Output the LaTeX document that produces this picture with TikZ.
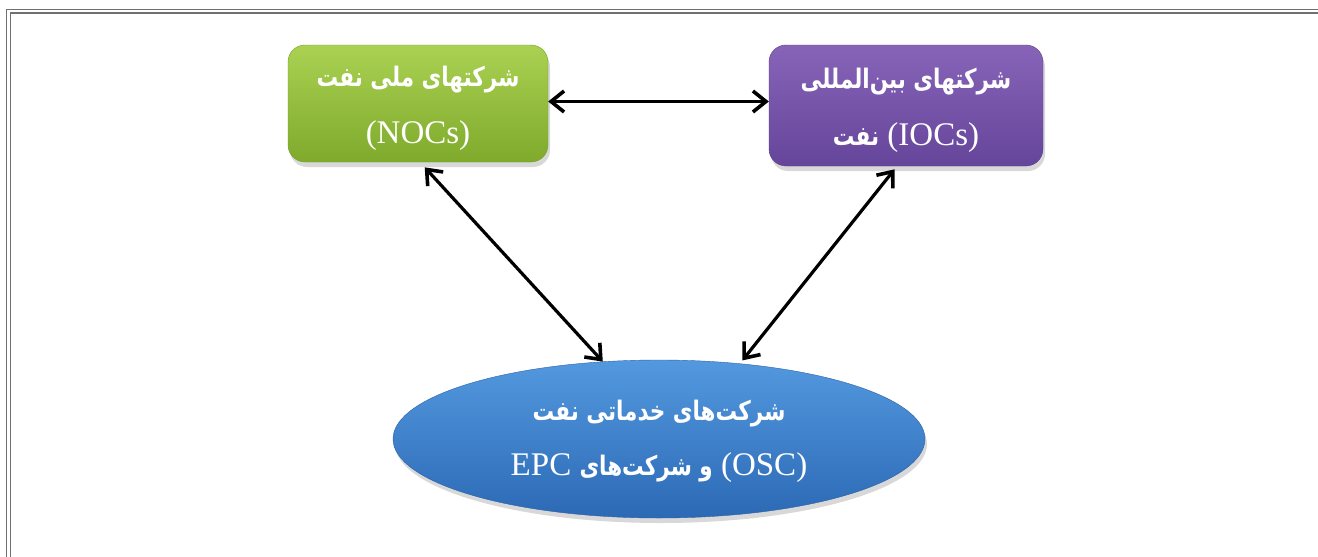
\documentclass[tikz,border=0pt]{standalone}
\usepackage{fontspec}
\usepackage{graphicx}
\setmainfont{Liberation Serif}
\newfontfamily\arabicfont[Script=Arabic]{DejaVu Sans}
\TeXXeTstate=1
\usetikzlibrary{shapes.geometric,arrows.meta,shadows}
\definecolor{grtop}{HTML}{AAD152}
\definecolor{grbot}{HTML}{7FAA2C}
\definecolor{grline}{HTML}{76A028}
\definecolor{putop}{HTML}{8764B8}
\definecolor{pubot}{HTML}{65459A}
\definecolor{puline}{HTML}{5E3F90}
\definecolor{bltop}{HTML}{5399DF}
\definecolor{blbot}{HTML}{2C69B5}
\definecolor{blline}{HTML}{2A62A8}
\definecolor{framedark}{HTML}{707070}
\newcommand{\ar}[1]{\scalebox{1}[1.25]{\arabicfont\bfseries\fontsize{21.5}{56}\selectfont\beginR #1\endR}}
\tikzset{
  orgbox/.style={rounded corners=17pt, inner sep=0pt,
    drop shadow={shadow xshift=2pt, shadow yshift=-5pt, opacity=0.25, fill=black!60}},
  boxtext/.style={text=white, align=center, inner sep=0pt,
    font=\fontsize{33}{57}\selectfont},
  linkarrow/.style={line width=3.2pt, black, {Straight Barb[length=13pt,width=21pt,line width=3.6pt]}-{Straight Barb[length=13pt,width=21pt,line width=3.6pt]}},
  framestroke/.style={framedark, line width=1.4pt}
}
\begin{document}
\begin{tikzpicture}[x=1pt,y=-1pt]
\useasboundingbox (0,0) rectangle (1318,557);
\fill[white] (0,0) rectangle (1318,557);
% frame
\draw[framestroke] (1318,9.5) -- (6.5,9.5) -- (6.5,557);
\draw[framestroke] (1318,13) -- (10.5,13) -- (10.5,557);
% boxes
\node[orgbox, draw=grline, top color=grtop, bottom color=grbot,
  minimum width=260pt, minimum height=117pt] (noc) at (418,103.5) {};
\node[orgbox, draw=puline, top color=putop, bottom color=pubot,
  minimum width=274pt, minimum height=121pt] (ioc) at (906,105.5) {};
\node[ellipse, draw=blline, top color=bltop, bottom color=blbot, inner sep=0pt,
  minimum width=532pt, minimum height=158pt,
  drop shadow={shadow xshift=2pt, shadow yshift=-5pt, opacity=0.25, fill=black!60}] (osc) at (659,439) {};
% texts
\node[boxtext] (noct) at ([yshift=-5pt]noc.center) {\ar{شرکتهای ملی نفت}\\(NOCs)};
\node[boxtext] (ioct) at ([yshift=-5pt]ioc.center) {\ar{شرکتهای بین‌المللی}\\\ar{نفت} (IOCs)};
\node[boxtext, font=\fontsize{33}{55}\selectfont] (osct) at ([yshift=-2pt]osc.center)
  {\ar{شرکت‌های خدماتی نفت}\\EPC \ar{و شرکت‌های} (OSC)};
% connectors
\draw[linkarrow] ([yshift=2pt]noc.east) -- ([yshift=2pt]noc.east -| ioc.west);
\draw[linkarrow, shorten <=7pt] ([xshift=2pt]noc.south) -- (osc.126.5);
\draw[linkarrow, shorten <=4pt, shorten >=4pt] ([xshift=-9pt]ioc.south) -- (osc.43);
\end{tikzpicture}
\end{document}
